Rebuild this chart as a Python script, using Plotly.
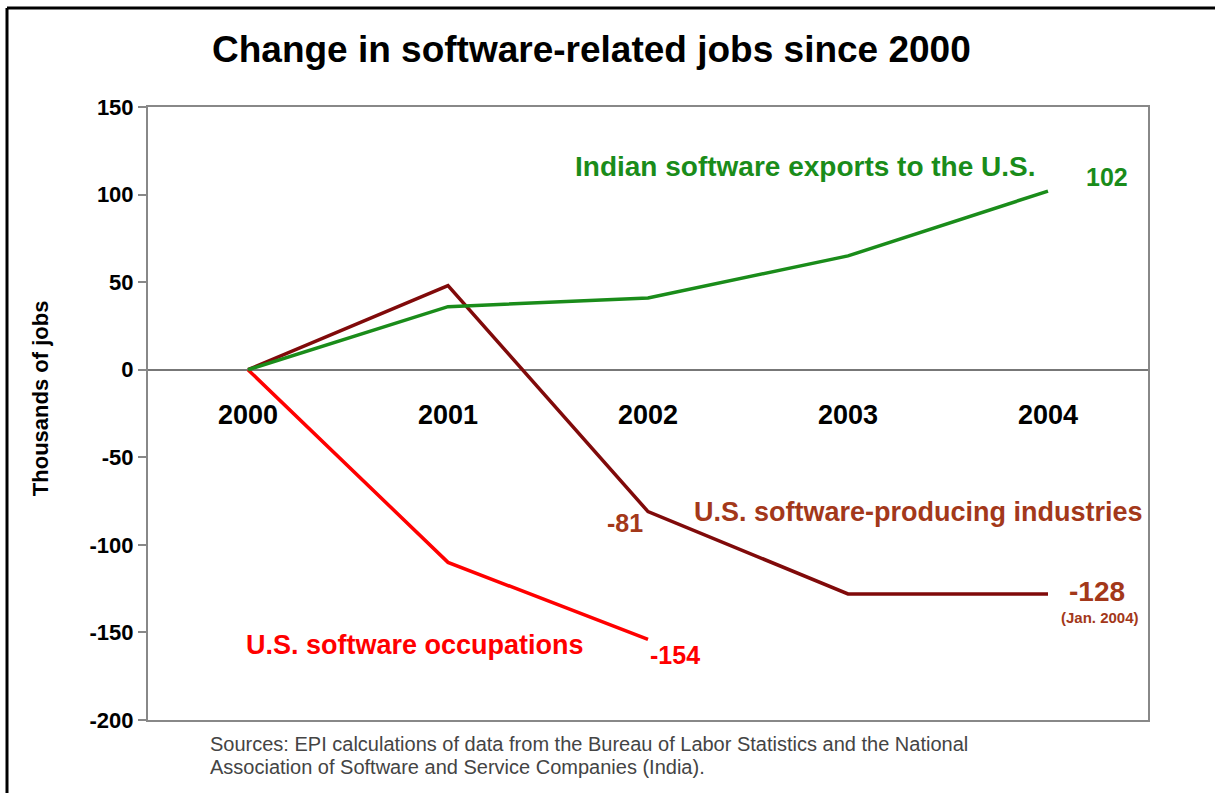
import plotly.graph_objects as go

years = ["2000", "2001", "2002", "2003", "2004"]
india_exports = [0, 36, 41, 65, 102]
us_industries = [0, 48, -81, -128, -128]
us_occupations = [0, -110, -154]
y_tick_vals = [150, 100, 50, 0, -50, -100, -150, -200]
y_tick_text = ["150", "100", "50", "0", "-50", "-100", "-150", "-200"]

GREEN = "#1A8C1A"
DARKRED = "#800A0A"
BROWN = "#A3381A"
RED = "#FF0000"
FONT = "Arial, Liberation Sans, sans-serif"

x_idx = list(range(len(years)))

fig = go.Figure()
fig.add_trace(go.Scatter(x=x_idx, y=us_industries, mode="lines",
                         line=dict(color=DARKRED, width=3.5), showlegend=False))
fig.add_trace(go.Scatter(x=x_idx[:len(us_occupations)], y=us_occupations, mode="lines",
                         line=dict(color=RED, width=3.5), showlegend=False))
fig.add_trace(go.Scatter(x=x_idx, y=india_exports, mode="lines",
                         line=dict(color=GREEN, width=3.5), showlegend=False))

ann = []
# category labels just under the zero line
for i, yr in enumerate(years):
    ann.append(dict(x=i, y=0, xref="x", yref="y", text=yr, showarrow=False,
                    yshift=-45, font=dict(family=FONT, size=27, color="black", weight="bold")))

ann += [
    dict(x=0.443, y=1.093, xref="paper", yref="paper", showarrow=False,
         xanchor="center", yanchor="middle",
         text="Change in software-related jobs since 2000",
         font=dict(family=FONT, size=37, color="black", weight="bold")),
    dict(x=-0.108, y=0.525, xref="paper", yref="paper", showarrow=False, textangle=-90,
         xanchor="center", yanchor="middle",
         text="Thousands of jobs", font=dict(family=FONT, size=22, color="black", weight="bold")),
    dict(x=2.785, y=116, xref="x", yref="y", showarrow=False,
         text="Indian software exports to the U.S.",
         font=dict(family=FONT, size=28, color=GREEN, weight="bold")),
    dict(x=4.295, y=110, xref="x", yref="y", showarrow=False, text="102",
         font=dict(family=FONT, size=25, color=GREEN, weight="bold")),
    dict(x=3.35, y=-81, xref="x", yref="y", showarrow=False,
         text="U.S. software-producing industries",
         font=dict(family=FONT, size=27, color=BROWN, weight="bold")),
    dict(x=1.885, y=-87.4, xref="x", yref="y", showarrow=False, text="-81",
         font=dict(family=FONT, size=25, color=BROWN, weight="bold")),
    dict(x=4.245, y=-126.8, xref="x", yref="y", showarrow=False, text="-128",
         font=dict(family=FONT, size=28, color=BROWN, weight="bold")),
    dict(x=4.26, y=-141.6, xref="x", yref="y", showarrow=False, text="(Jan. 2004)",
         font=dict(family=FONT, size=15, color=BROWN, weight="bold")),
    dict(x=0.835, y=-157, xref="x", yref="y", showarrow=False,
         text="U.S. software occupations",
         font=dict(family=FONT, size=27, color=RED, weight="bold")),
    dict(x=2.135, y=-162.8, xref="x", yref="y", showarrow=False, text="-154",
         font=dict(family=FONT, size=25, color=RED, weight="bold")),
    dict(x=0.06, y=(720 - 744) / 613, xref="paper", yref="paper", showarrow=False,
         xanchor="left", yanchor="middle", align="left",
         text="Sources: EPI calculations of data from the Bureau of Labor Statistics and the National",
         font=dict(family=FONT, size=20, color="#444444")),
    dict(x=0.06, y=(720 - 767) / 613, xref="paper", yref="paper", showarrow=False,
         xanchor="left", yanchor="middle", align="left",
         text="Association of Software and Service Companies (India).",
         font=dict(family=FONT, size=20, color="#444444")),
]

shapes = [
    dict(type="line", xref="paper", yref="paper", x0=-0.141, x1=-0.141, y0=1.1615, y1=-0.2,
         line=dict(color="black", width=3)),
    dict(type="line", xref="paper", yref="paper", x0=-0.141, x1=1.2, y0=1.1615, y1=1.1615,
         line=dict(color="black", width=3)),
]

fig.update_layout(
    width=1215, height=793,
    margin=dict(l=148, r=67, t=107, b=73),
    paper_bgcolor="white", plot_bgcolor="white",
    xaxis=dict(range=[-0.5, 4.5], showticklabels=False, showgrid=False, zeroline=False,
               showline=True, mirror=True, linecolor="#888888", linewidth=2, ticks=""),
    yaxis=dict(range=[-200, 150], tickvals=y_tick_vals, ticktext=y_tick_text,
               showgrid=False, zeroline=True,
               zerolinecolor="#777777", zerolinewidth=2,
               showline=True, mirror=True, linecolor="#888888", linewidth=2,
               ticks="outside", ticklen=8, tickcolor="#888888", tickwidth=2,
               tickfont=dict(family=FONT, size=22, color="black", weight="bold")),
    annotations=ann, shapes=shapes,
)

fig.write_html("out.html")
